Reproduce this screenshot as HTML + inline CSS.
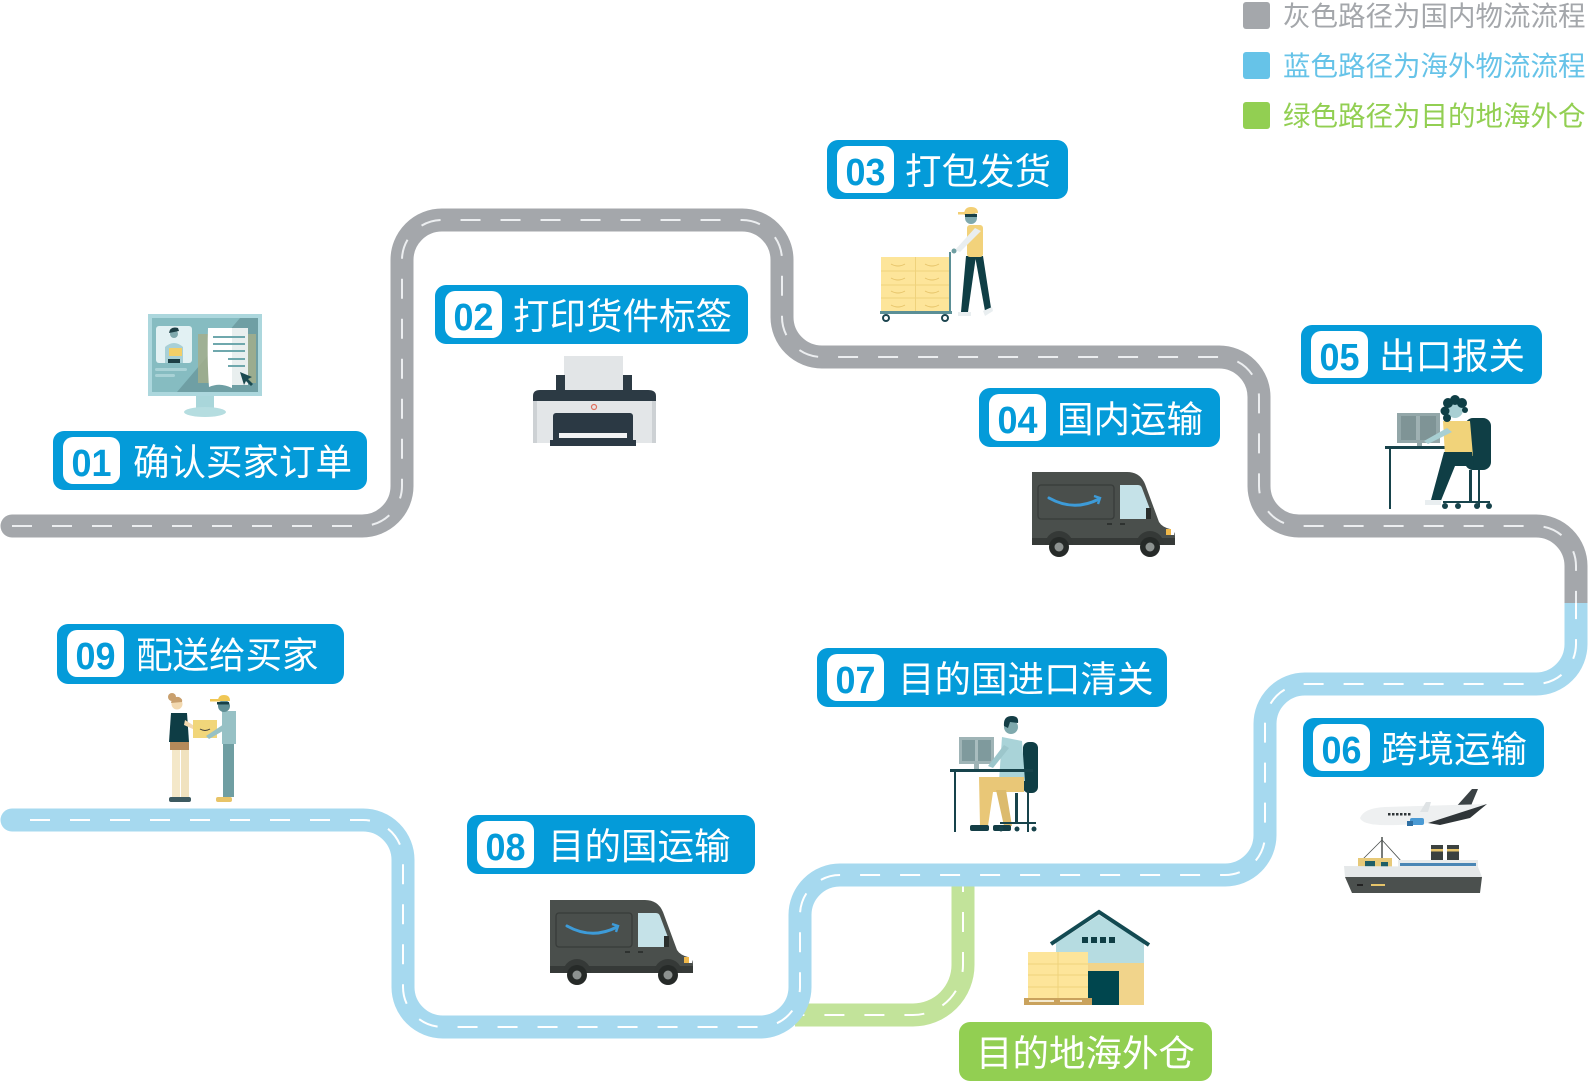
<!DOCTYPE html>
<html><head><meta charset="utf-8"><style>
html,body{margin:0;padding:0;background:#fff;}
body{width:1588px;height:1084px;overflow:hidden;}
svg{display:block;}
.num{font-family:"Liberation Sans",sans-serif;font-weight:bold;font-size:38px;fill:#049bd9;text-anchor:middle;}
.lab{font-family:"Liberation Sans","Noto Sans CJK SC",sans-serif;font-size:36.5px;fill:#fff;}
.leg{font-family:"Liberation Sans","Noto Sans CJK SC",sans-serif;font-size:27.5px;}
</style></head><body>
<svg width="1588" height="1084" viewBox="0 0 1588 1084" xmlns="http://www.w3.org/2000/svg">
<defs>
<g id="van">
<path d="M0 0 H95 Q108 0 113 12 L127 50 Q130 55 138 57 Q143 59 143 64 V73 H0 Z" fill="#4a4f4c"/>
<rect x="0" y="66" width="143" height="7" fill="#363a38"/>
<rect x="6" y="13" width="76" height="34" rx="3" fill="none" stroke="#383c3a" stroke-width="1.3"/>
<path d="M17 26 Q42 40 67 27" fill="none" stroke="#3d9bd8" stroke-width="3" stroke-linecap="round"/>
<path d="M62 24 L68 26 L66 32" fill="none" stroke="#3d9bd8" stroke-width="2.4"/>
<path d="M88 13 H106 Q109 13 110 16 L119 40 V47 H88 Z" fill="#c5e2e8"/>
<rect x="114" y="36" width="5" height="11" fill="#2a2e2c"/>
<rect x="75" y="51" width="5" height="2" fill="#2e3230"/><rect x="88" y="51" width="5" height="2" fill="#2e3230"/>
<rect x="134" y="57" width="5" height="6" fill="#f0b84a"/><rect x="139" y="57" width="3" height="6" fill="#fff"/>
<path d="M13 73 A14 14 0 0 1 41 73 Z" fill="#353937"/>
<path d="M104 73 A14 14 0 0 1 132 73 Z" fill="#353937"/>
<circle cx="27" cy="75" r="10" fill="#262a28"/><circle cx="27" cy="75" r="4.5" fill="#8d9290"/>
<circle cx="118" cy="75" r="10" fill="#262a28"/><circle cx="118" cy="75" r="4.5" fill="#8d9290"/>
</g>
</defs>

<!-- Legend -->
<rect x="1243" y="2" width="27" height="27" rx="3" fill="#a4a7ab"/>
<text x="1283" y="25.5" class="leg" fill="#a4a7ab">灰色路径为国内物流流程</text>
<rect x="1243" y="52" width="27" height="27" rx="3" fill="#66c3e8"/>
<text x="1283" y="75.5" class="leg" fill="#66c3e8">蓝色路径为海外物流流程</text>
<rect x="1243" y="102" width="27" height="27" rx="3" fill="#92cf52"/>
<text x="1283" y="125.5" class="leg" fill="#92cf52">绿色路径为目的地海外仓</text>

<!-- Roads -->
<path d="M963 878 V965 A50 50 0 0 1 913 1015 H795" fill="none" stroke="#c2e39a" stroke-width="23"/>
<path d="M963 880 V965 A50 50 0 0 1 913 1015 H795" fill="none" stroke="#fff" stroke-width="2" stroke-dasharray="20 20" stroke-dashoffset="8"/>

<circle cx="12" cy="526" r="11.5" fill="#a4a7ab"/>
<path d="M12 526 H362 A40 40 0 0 0 402 486 V260 A40 40 0 0 1 442 220 H742 A40 40 0 0 1 782 260 V317 A40 40 0 0 0 822 357 H1219 A40 40 0 0 1 1259 397 V486 A40 40 0 0 0 1299 526 H1536 A40 40 0 0 1 1576 566 V603" fill="none" stroke="#a4a7ab" stroke-width="23"/>
<path d="M12 526 H362 A40 40 0 0 0 402 486 V260 A40 40 0 0 1 442 220 H742 A40 40 0 0 1 782 260 V317 A40 40 0 0 0 822 357 H1219 A40 40 0 0 1 1259 397 V486 A40 40 0 0 0 1299 526 H1536 A40 40 0 0 1 1576 566 V603" fill="none" stroke="#eceef0" stroke-width="2" stroke-dasharray="20 20"/>

<circle cx="12" cy="820" r="11.5" fill="#a6d9ef"/>
<path d="M1576 603 V644 A40 40 0 0 1 1536 684 H1305 A40 40 0 0 0 1265 724 V835 A40 40 0 0 1 1225 875 H840 A40 40 0 0 0 800 915 V987 A40 40 0 0 1 760 1027 H443 A40 40 0 0 1 403 987 V860 A40 40 0 0 0 363 820 H12" fill="none" stroke="#a6d9ef" stroke-width="23"/>
<path d="M12 820 H363 A40 40 0 0 1 403 860 V987 A40 40 0 0 0 443 1027 H760 A40 40 0 0 0 800 987 V915 A40 40 0 0 1 840 875 H1225 A40 40 0 0 0 1265 835 V724 A40 40 0 0 1 1305 684 H1536 A40 40 0 0 0 1576 644 V603" fill="none" stroke="#fff" stroke-width="2" stroke-dasharray="20 20" stroke-dashoffset="22"/>

<!-- Labels -->
<g transform="translate(53,431)"><rect width="314" height="59" rx="11" fill="#049bd9"/><rect x="10" y="6" width="57" height="47" rx="10" fill="#fff"/><text x="38.5" y="45" class="num" textLength="40" lengthAdjust="spacingAndGlyphs">01</text><text x="80" y="44" class="lab">确认买家订单</text></g>
<g transform="translate(435,285)"><rect width="313" height="59" rx="11" fill="#049bd9"/><rect x="10" y="6" width="57" height="47" rx="10" fill="#fff"/><text x="38.5" y="45" class="num" textLength="40" lengthAdjust="spacingAndGlyphs">02</text><text x="78" y="44" class="lab">打印货件标签</text></g>
<g transform="translate(827,140)"><rect width="241" height="59" rx="11" fill="#049bd9"/><rect x="10" y="6" width="57" height="47" rx="10" fill="#fff"/><text x="38.5" y="45" class="num" textLength="40" lengthAdjust="spacingAndGlyphs">03</text><text x="78" y="44" class="lab">打包发货</text></g>
<g transform="translate(979,388)"><rect width="241" height="59" rx="11" fill="#049bd9"/><rect x="10" y="6" width="57" height="47" rx="10" fill="#fff"/><text x="38.5" y="45" class="num" textLength="40" lengthAdjust="spacingAndGlyphs">04</text><text x="78" y="44" class="lab">国内运输</text></g>
<g transform="translate(1301,325)"><rect width="241" height="59" rx="11" fill="#049bd9"/><rect x="10" y="6" width="57" height="47" rx="10" fill="#fff"/><text x="38.5" y="45" class="num" textLength="40" lengthAdjust="spacingAndGlyphs">05</text><text x="78" y="44" class="lab">出口报关</text></g>
<g transform="translate(1303,718)"><rect width="241" height="59" rx="11" fill="#049bd9"/><rect x="10" y="6" width="57" height="47" rx="10" fill="#fff"/><text x="38.5" y="45" class="num" textLength="40" lengthAdjust="spacingAndGlyphs">06</text><text x="78" y="44" class="lab">跨境运输</text></g>
<g transform="translate(817,648)"><rect width="350" height="59" rx="11" fill="#049bd9"/><rect x="10" y="6" width="57" height="47" rx="10" fill="#fff"/><text x="38.5" y="45" class="num" textLength="40" lengthAdjust="spacingAndGlyphs">07</text><text x="81" y="44" class="lab">目的国进口清关</text></g>
<g transform="translate(467,815)"><rect width="288" height="59" rx="11" fill="#049bd9"/><rect x="10" y="6" width="57" height="47" rx="10" fill="#fff"/><text x="38.5" y="45" class="num" textLength="40" lengthAdjust="spacingAndGlyphs">08</text><text x="81" y="44" class="lab">目的国运输</text></g>
<g transform="translate(57,624)"><rect width="287" height="60" rx="11" fill="#049bd9"/><rect x="10" y="6" width="57" height="47" rx="10" fill="#fff"/><text x="38.5" y="45" class="num" textLength="40" lengthAdjust="spacingAndGlyphs">09</text><text x="79" y="44" class="lab">配送给买家</text></g>
<g transform="translate(959,1022)"><rect width="253" height="59" rx="11" fill="#92cf52"/><text x="17" y="44" class="lab">目的地海外仓</text></g>

<!-- 01 monitor -->
<rect x="148" y="314" width="114" height="82" fill="#acd7dd"/>
<rect x="152" y="318" width="106" height="74" fill="#86bcc1"/>
<polygon points="177,392 240,318 258,318 258,392" fill="#6f9fa4"/>
<rect x="198" y="334" width="58" height="49" fill="#a3ae8c" opacity="0.85"/>
<rect x="156" y="326" width="36" height="37" rx="3" fill="#e2f1f3"/>
<path d="M165 363 V347 Q174 339 183 347 V363 Z" fill="#a8d0d6"/>
<circle cx="174" cy="334" r="4" fill="#7fa9ad"/>
<path d="M169 333 Q170 326 178 328 L179 331 Z" fill="#1d3f45"/>
<rect x="169" y="348" width="13" height="8" fill="#f2cf68"/>
<rect x="168" y="359" width="12" height="4" fill="#1d3f45"/>
<rect x="155" y="368" width="32" height="3" rx="1.5" fill="#a9d2d6"/>
<rect x="155" y="374" width="20" height="3" rx="1.5" fill="#a9d2d6"/>
<path d="M228 328 H248 V385 H232 Z" fill="#e9efef"/>
<path d="M208 328 H232 V388 Q220 382 209 387 Q207 360 208 328 Z" fill="#fff"/>
<g stroke="#6fa8ad" stroke-width="2"><line x1="213" y1="337" x2="245" y2="337"/><line x1="213" y1="344" x2="245" y2="344"/><line x1="213" y1="351" x2="245" y2="351"/><line x1="228" y1="359" x2="245" y2="359"/><line x1="228" y1="366" x2="245" y2="366"/></g>
<polygon points="240,372 252,377 248,379 253,384 251,386 246,381 244,385" fill="#1b4a50"/>
<rect x="196" y="396" width="18" height="12" fill="#a9d6da"/>
<ellipse cx="205" cy="412" rx="21" ry="5" fill="#b5dde0"/>

<!-- 02 printer -->
<rect x="564" y="356" width="59" height="36" fill="#e2e5e7"/>
<rect x="556" y="375" width="9" height="17" fill="#2c3a44"/>
<rect x="623" y="375" width="9" height="17" fill="#2c3a44"/>
<path d="M533 401 V396 Q533 390 540 390 H648 Q656 390 656 396 V401 Z" fill="#2c3a44"/>
<rect x="533" y="401" width="123" height="42" fill="#e3e6e8"/>
<rect x="533" y="401" width="4" height="42" fill="#cdd1d4"/><rect x="652" y="401" width="4" height="42" fill="#cdd1d4"/>
<circle cx="594" cy="407" r="2.5" fill="none" stroke="#e0705f" stroke-width="1.2"/>
<rect x="553" y="413" width="80" height="30" rx="3" fill="#2b3944"/>
<rect x="559" y="433" width="68" height="5" fill="#f2f3f4"/>
<rect x="550" y="440" width="86" height="6" fill="#2b3944"/>

<!-- 03 worker with cart -->
<rect x="881" y="257" width="69" height="55" fill="#fde59a"/>
<g stroke="#efd27c" stroke-width="1"><line x1="915.5" y1="257" x2="915.5" y2="312"/><line x1="881" y1="271" x2="950" y2="271"/><line x1="881" y1="285" x2="950" y2="285"/><line x1="881" y1="298" x2="950" y2="298"/></g>
<g fill="none" stroke="#e6c46a" stroke-width="1"><path d="M891 264 Q898 268 905 264"/><path d="M925 264 Q932 268 939 264"/><path d="M891 278 Q898 282 905 278"/><path d="M925 278 Q932 282 939 278"/><path d="M891 291 Q898 295 905 291"/><path d="M925 291 Q932 295 939 291"/><path d="M891 305 Q898 309 905 305"/><path d="M925 305 Q932 309 939 305"/></g>
<line x1="950" y1="252" x2="950" y2="314" stroke="#5b8f96" stroke-width="2"/>
<rect x="880" y="311" width="72" height="3" fill="#5b8f96"/>
<circle cx="886" cy="318" r="3" fill="#fff" stroke="#1d4650" stroke-width="2"/>
<circle cx="945" cy="318" r="3" fill="#fff" stroke="#1d4650" stroke-width="2"/>
<polygon points="966,256 976,256 968,312 961,312" fill="#0f3e45"/>
<polygon points="975,256 983,256 991,308 985,311" fill="#0f3e45"/>
<rect x="958" y="312" width="13" height="4" fill="#e9eef0"/>
<polygon points="983,311 992,307 993,311 985,316" fill="#e9eef0"/>
<rect x="967" y="225" width="16" height="32" rx="3" fill="#f2d27b"/>
<polygon points="975,228 981,231 960,252 955,250" fill="#e9eef0"/>
<circle cx="954" cy="251" r="2.5" fill="#6f9ea2"/>
<circle cx="971" cy="218" r="6" fill="#7fa9ad"/>
<path d="M964 215 Q964 207 971 207 Q978 207 978 213 Z" fill="#f3cf74"/>
<rect x="958" y="212" width="10" height="2.5" fill="#f3cf74"/>
<rect x="965" y="214" width="12" height="3" fill="#173f46"/>

<!-- 04 van -->
<use href="#van" transform="translate(1032,472)"/>

<!-- 05 person at desk -->
<rect x="1397" y="413" width="43" height="30" fill="#93a7a9"/>
<rect x="1401" y="416" width="35" height="24" fill="#7f9496"/>
<rect x="1416" y="416" width="4" height="24" fill="#9fb1b3"/>
<rect x="1417" y="443" width="5" height="4" fill="#93a7a9"/>
<rect x="1385" y="446" width="100" height="3" fill="#17434b"/>
<rect x="1389" y="449" width="2" height="60" fill="#17434b"/>
<rect x="1478" y="449" width="2" height="58" fill="#17434b"/>
<rect x="1465" y="418" width="26" height="52" rx="8" fill="#0f3e45"/>
<polygon points="1443,421 1470,421 1473,456 1445,456" fill="#f1d37a"/>
<polygon points="1447,428 1452,432 1428,444 1424,441" fill="#a8cfd3"/>
<polygon points="1444,452 1472,452 1474,466 1455,466 1440,503 1431,500" fill="#0f3e45"/>
<rect x="1425" y="500" width="16" height="5" fill="#e9eef0"/>
<rect x="1469" y="470" width="3" height="32" fill="#17434b"/>
<rect x="1443" y="501" width="47" height="2" fill="#17434b"/>
<circle cx="1445" cy="506" r="3" fill="#17434b"/><circle cx="1458" cy="506" r="3" fill="#17434b"/><circle cx="1477" cy="506" r="3" fill="#17434b"/><circle cx="1489" cy="506" r="3" fill="#17434b"/>
<circle cx="1455" cy="410" r="8" fill="#a8cfd3"/>
<g fill="#0f3e45"><circle cx="1448" cy="403" r="5"/><circle cx="1455" cy="400" r="5"/><circle cx="1462" cy="403" r="5"/><circle cx="1445" cy="411" r="4.5"/><circle cx="1447" cy="418" r="4"/><circle cx="1465" cy="410" r="3"/></g>

<!-- 06 plane -->
<polygon points="1455,808 1472,789 1478,789 1470,808" fill="#3b4245"/>
<path d="M1360 818 Q1364 808 1385 807 L1487 804 L1470 818 Q1420 826 1380 825 Q1362 824 1360 818 Z" fill="#eef0f1"/>
<polygon points="1428,823 1487,804 1470,818 1440,825" fill="#2f3538"/>
<polygon points="1420,812 1426,802 1431,802 1428,812" fill="#dfe3e5"/>
<g fill="#2f3538"><rect x="1388" y="813" width="2.5" height="2.5"/><rect x="1392" y="813" width="2.5" height="2.5"/><rect x="1396" y="813" width="2.5" height="2.5"/><rect x="1400" y="813" width="2.5" height="2.5"/><rect x="1404" y="813" width="2.5" height="2.5"/><rect x="1408" y="813" width="2.5" height="2.5"/></g>
<rect x="1410" y="818" width="14" height="7" rx="2" fill="#4a9ad4"/>
<rect x="1407" y="821" width="6" height="5" fill="#2e6fa3"/>

<!-- ship -->
<line x1="1382" y1="837" x2="1382" y2="867" stroke="#4b504e" stroke-width="1.5"/>
<path d="M1382 840 L1360 862 M1382 840 L1402 862" stroke="#4b504e" stroke-width="0.8" fill="none"/>
<rect x="1358" y="858" width="34" height="9" fill="#e7c978"/>
<rect x="1365" y="861" width="10" height="6" fill="#1f5e66"/>
<rect x="1381" y="862" width="7" height="5" fill="#1f5e66"/>
<rect x="1431" y="845" width="12" height="18" fill="#3c4240"/>
<rect x="1447" y="845" width="12" height="18" fill="#3c4240"/>
<rect x="1431" y="849" width="12" height="2.5" fill="#e6c46a"/>
<rect x="1447" y="849" width="12" height="2.5" fill="#e6c46a"/>
<rect x="1398" y="860" width="80" height="11" fill="#e8ebec"/>
<rect x="1400" y="863" width="76" height="3" fill="#4a86b5"/>
<rect x="1400" y="868" width="76" height="2" fill="#5a5f5d"/>
<polygon points="1344,866 1478,867 1482,877 1345,877" fill="#e5e8e9"/>
<polygon points="1345,877 1482,877 1480,893 1352,893" fill="#4b504e"/>
<rect x="1357" y="884" width="6" height="2" fill="#222"/>
<rect x="1371" y="884" width="14" height="2" fill="#e6c46a"/>

<!-- 07 person at desk -->
<rect x="959" y="737" width="35" height="27" fill="#9fb4b6"/>
<rect x="962" y="740" width="29" height="21" fill="#7f9a9d"/>
<rect x="975" y="740" width="3" height="21" fill="#a9bdbf"/>
<rect x="974" y="764" width="5" height="5" fill="#9fb4b6"/>
<rect x="1023" y="742" width="15" height="51" rx="6" fill="#0f3e45"/>
<polygon points="1002,737 1022,741 1025,781 999,781" fill="#a9d3d8"/>
<polygon points="1004,745 1009,748 993,768 988,766" fill="#9cc6cb"/>
<rect x="950" y="769" width="83" height="3" fill="#17434b"/>
<rect x="954" y="772" width="2" height="60" fill="#17434b"/>
<polygon points="979,777 1024,777 1024,792 993,792 988,826 980,826" fill="#e9c777"/>
<polygon points="996,790 1006,790 1012,826 1004,826" fill="#dcbb6d"/>
<rect x="970" y="825" width="19" height="6" rx="2" fill="#143e46"/>
<rect x="993" y="825" width="18" height="6" rx="2" fill="#143e46"/>
<rect x="1015" y="793" width="3" height="30" fill="#17434b"/>
<rect x="1000" y="822" width="36" height="2" fill="#17434b"/>
<circle cx="1001" cy="829" r="2.5" fill="#17434b"/><circle cx="1017" cy="829" r="2.5" fill="#17434b"/><circle cx="1034" cy="829" r="2.5" fill="#17434b"/>
<rect x="1027" y="790" width="2" height="42" fill="#17434b"/>
<circle cx="1011" cy="727" r="7" fill="#7fa9ad"/>
<path d="M1004 726 Q1003 716 1012 716 Q1019 716 1018 723 L1010 722 L1008 728 Z" fill="#143e46"/>

<!-- 08 van -->
<use href="#van" transform="translate(550,900)"/>

<!-- 09 delivery -->
<circle cx="172" cy="697" r="4" fill="#c9a06e"/>
<circle cx="177" cy="704" r="5.5" fill="#f3d9b0"/>
<path d="M171 703 Q172 696 179 697 Q183 699 182 702 Z" fill="#c9a06e"/>
<polygon points="171,713 187,713 189,742 169,742" fill="#0e3d45"/>
<polygon points="185,720 196,727 195,730 184,725" fill="#f3d9b0"/>
<rect x="170" y="742" width="19" height="8" fill="#b48a5a"/>
<rect x="172" y="750" width="8" height="47" fill="#f4e8c9"/>
<rect x="181" y="750" width="8" height="47" fill="#f0e2bf"/>
<rect x="169" y="797" width="22" height="5" rx="2" fill="#3d5a60"/>
<rect x="193" y="720" width="24" height="18" fill="#f1d67a"/>
<path d="M200 729 Q205 732 210 729" fill="none" stroke="#3b3b3b" stroke-width="1"/>
<rect x="223" y="743" width="11" height="54" fill="#6f9ea2"/>
<polygon points="222,711 236,711 236,744 222,744" fill="#97c1c5"/>
<polygon points="224,724 228,728 209,739 206,736" fill="#97c1c5"/>
<rect x="216" y="797" width="16" height="5" rx="2" fill="#e8c468"/>
<circle cx="224" cy="706" r="6" fill="#5f8e94"/>
<path d="M218 701 Q218 695 224 695 Q230 695 230 701 Z" fill="#f0c755"/>
<rect x="210" y="699" width="10" height="2.5" fill="#f0c755"/>
<rect x="217" y="702" width="12" height="2.5" fill="#173f46"/>

<!-- warehouse -->
<polygon points="1056,943 1099,915 1144,943 1144,963 1056,963" fill="#b6dce1"/>
<polyline points="1051,944 1099,912 1149,945" fill="none" stroke="#134a52" stroke-width="4"/>
<rect x="1056" y="963" width="88" height="42" fill="#f1d48b"/>
<rect x="1088" y="971" width="31" height="34" fill="#00464e"/>
<g fill="#0f3e45"><rect x="1082" y="937" width="6" height="6"/><rect x="1091" y="937" width="6" height="6"/><rect x="1100" y="937" width="6" height="6"/><rect x="1109" y="937" width="6" height="6"/></g>
<rect x="1028" y="952" width="60" height="46" fill="#fde59a"/>
<g stroke="#efd27c" stroke-width="1"><line x1="1058" y1="952" x2="1058" y2="998"/><line x1="1028" y1="964" x2="1088" y2="964"/><line x1="1028" y1="975" x2="1088" y2="975"/><line x1="1028" y1="987" x2="1088" y2="987"/></g>
<rect x="1024" y="998" width="68" height="7" fill="#c9a25d"/>
<rect x="1029" y="1000" width="25" height="2" fill="#f4ead0"/><rect x="1060" y="1000" width="22" height="2" fill="#f4ead0"/>
</svg>
</body></html>
